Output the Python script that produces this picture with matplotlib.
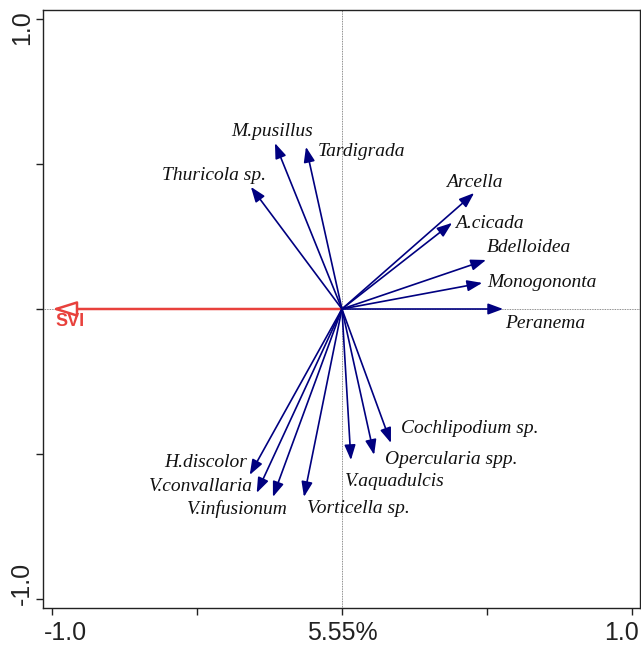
import matplotlib
matplotlib.use('Agg')
import matplotlib.pyplot as plt

# species arrows (CCA/RDA biplot scores)
species = ['M.pusillus', 'Tardigrada', 'Thuricola sp.', 'Arcella', 'A.cicada',
           'Bdelloidea', 'Monogononta', 'Peranema', 'Cochlipodium sp.',
           'Opercularia spp.', 'V.aquadulcis', 'Vorticella sp.', 'V.infusionum',
           'V.convallaria', 'H.discolor']
sp_x = [-0.231, -0.124, -0.314, 0.456, 0.380, 0.497, 0.484, 0.556, 0.169,
        0.111, 0.031, -0.131, -0.238, -0.294, -0.318]
sp_y = [0.572, 0.559, 0.421, 0.400, 0.297, 0.169, 0.090, 0.000, -0.462,
        -0.503, -0.521, -0.648, -0.648, -0.634, -0.572]

# environmental variable
env_name = 'SVI'
env_x = -1.0
env_y = 0.0

x_ticks = [-1.0, -0.5, 0.0, 0.5, 1.0]
x_ticklabels = ['-1.0', '', '5.55%', '', '1.0']
y_ticks = [-1.0, -0.5, 0.0, 0.5, 1.0]
y_ticklabels = ['-1.0', '', '', '', '1.0']

# label placement: (dx, dy) in pixels from arrow tip, horizontal alignment
label_pos = {
    'M.pusillus': (-3, 12, 'center'),
    'Tardigrada': (12, -5, 'left'),
    'Thuricola sp.': (15, 11, 'right'),
    'Arcella': (0, 10, 'center'),
    'A.cicada': (3, -1, 'left'),
    'Bdelloidea': (1, 12, 'left'),
    'Monogononta': (5, 0, 'left'),
    'Peranema': (2, -14, 'left'),
    'Cochlipodium sp.': (10, 14, 'left'),
    'Opercularia spp.': (11, -5, 'left'),
    'V.aquadulcis': (-6, -21, 'left'),
    'Vorticella sp.': (3, -12, 'left'),
    'V.infusionum': (15, -12, 'right'),
    'V.convallaria': (-4, 6, 'right'),
    'H.discolor': (-3, 12, 'right'),
}

navy = '#000080'
red = '#e8413c'

fig = plt.figure(figsize=(6.41, 6.49), dpi=100)
ax = fig.add_axes([43 / 641, 41 / 649, 597 / 641, 598 / 649])
ax.set_xlim(-1.031, 1.028)
ax.set_ylim(-1.031, 1.031)

# dotted zero lines
ax.axhline(0, color='#666666', lw=0.6, ls=(0, (1, 1)), zorder=1)
ax.axvline(0, color='#666666', lw=0.6, ls=(0, (1, 1)), zorder=1)

for name, x, y in zip(species, sp_x, sp_y):
    ax.annotate('', xy=(x, y), xytext=(0, 0),
                arrowprops=dict(arrowstyle='-|>,head_length=0.65,head_width=0.24',
                                color=navy, lw=1.2, mutation_scale=14,
                                shrinkA=0, shrinkB=0), zorder=3)
    dx, dy, ha = label_pos[name]
    ax.annotate(name, xy=(x, y), xytext=(dx, dy), textcoords='offset pixels',
                ha=ha, va='center', fontsize=14, family='Liberation Serif',
                style='italic', color='#111111', zorder=4)

# SVI arrow with open head
ax.annotate('', xy=(env_x, env_y), xytext=(0, 0),
            arrowprops=dict(arrowstyle='-|>,head_length=1.5,head_width=0.47',
                            fc='white', ec=red, lw=1.8, mutation_scale=10,
                            shrinkA=0, shrinkB=0), zorder=2)
ax.annotate(env_name, xy=(env_x, env_y), xytext=(3, -13), textcoords='offset pixels',
            ha='left', va='center', fontsize=13, fontweight='bold',
            family='Liberation Sans', color=red)

# frame and ticks
for sp in ax.spines.values():
    sp.set_linewidth(1.0)
    sp.set_color('#222222')
ax.set_xticks(x_ticks)
ax.set_yticks(y_ticks)
ax.set_xticklabels([])
ax.set_yticklabels([])
ax.tick_params(direction='out', length=5, width=1.0, color='#222222')

# tick labels placed by hand, CANOCO style (shifted inwards)
x_shift = {'-1.0': 13, '5.55%': 0, '1.0': -10}
for t, lab in zip(x_ticks, x_ticklabels):
    if lab:
        ax.annotate(lab, xy=(t, 0), xycoords=('data', 'axes fraction'),
                    xytext=(x_shift[lab], -25), textcoords='offset pixels',
                    ha='center', va='center', fontsize=18,
                    family='Liberation Sans', color='#222222')
y_shift = {'-1.0': 16, '1.0': -9}
for t, lab in zip(y_ticks, y_ticklabels):
    if lab:
        ax.annotate(lab, xy=(0, t), xycoords=('axes fraction', 'data'),
                    xytext=(-21, y_shift[lab]), textcoords='offset pixels',
                    ha='center', va='center', rotation=90, fontsize=18,
                    family='Liberation Sans', color='#222222')

fig.savefig('out.png', dpi=100)
